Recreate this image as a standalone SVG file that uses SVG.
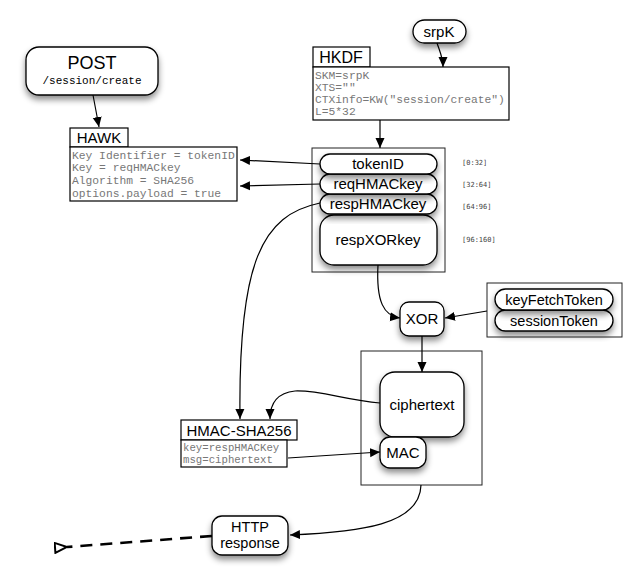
<svg xmlns="http://www.w3.org/2000/svg" width="637" height="586" viewBox="0 0 637 586">
<style>
.bg{fill:#fff}
.node{fill:#fff;stroke:#000;stroke-width:1.3;filter:url(#sh)}
.box{fill:#fff;stroke:#222;stroke-width:1}
.tab{fill:#fff;stroke:#000;stroke-width:1.2}
.lbl{font-family:"Liberation Sans",Arial,sans-serif;fill:#000;text-anchor:middle}
.mono{font-family:"Liberation Mono","Courier New",monospace;fill:#777}
.idx{font-family:"DejaVu Sans Mono","Liberation Mono",monospace;font-size:7px;fill:#444}
.con{fill:none;stroke:#000;stroke-width:1.2}
</style>
<defs>
<filter id="sh" x="-30%" y="-30%" width="160%" height="180%">
<feDropShadow dx="0" dy="4" stdDeviation="3" flood-color="#000" flood-opacity="0.45"/>
</filter>
<marker id="ah" viewBox="0 0 10 10" refX="10" refY="5" markerWidth="10" markerHeight="10" markerUnits="userSpaceOnUse" orient="auto">
<path d="M0,0.5 L10,5 L0,9.5 z" fill="#000"/>
</marker>
<marker id="oh" viewBox="0 0 14 12" refX="1" refY="6" markerWidth="14" markerHeight="12" markerUnits="userSpaceOnUse" orient="auto">
<path d="M13,1 L1,6 L13,11 z" fill="#fff" stroke="#000" stroke-width="2"/>
</marker>
</defs>
<rect class="bg" x="0" y="0" width="637" height="586"/>

<g id="post">
<rect class="node" x="26" y="47" width="132" height="48" rx="13"/>
<text class="lbl" x="92" y="69" font-size="18">POST</text>
<text class="mono" x="92" y="84" font-size="11" text-anchor="middle" style="fill:#000">/session/create</text>
</g>

<g id="hawk">
<rect class="tab" x="70" y="128" width="58" height="19"/>
<text class="lbl" x="99" y="143" font-size="15">HAWK</text>
<rect class="tab" x="70" y="147" width="167" height="54"/>
<text class="mono" x="72" y="159" font-size="11.3">Key Identifier = tokenID</text>
<text class="mono" x="72" y="171" font-size="11.3">Key = reqHMACkey</text>
<text class="mono" x="72" y="184" font-size="11.3">Algorithm = SHA256</text>
<text class="mono" x="72" y="197" font-size="11.3">options.payload = true</text>
</g>

<g id="srpK">
<rect class="node" x="413" y="20" width="53" height="23" rx="11.5"/>
<text class="lbl" x="439" y="37" font-size="15">srpK</text>
</g>

<g id="hkdf">
<rect class="tab" x="313" y="47" width="57" height="20"/>
<text class="lbl" x="341" y="63" font-size="16">HKDF</text>
<rect class="tab" x="313" y="67" width="196" height="53"/>
<text class="mono" x="315" y="79" font-size="11.3">SKM=srpK</text>
<text class="mono" x="315" y="91" font-size="11.3">XTS=""</text>
<text class="mono" x="315" y="103" font-size="11.3">CTXinfo=KW("session/create")</text>
<text class="mono" x="315" y="115" font-size="11.3">L=5*32</text>
</g>

<g id="keys">
<rect class="box" x="312" y="148" width="133" height="124"/>
<rect class="node" x="320" y="215" width="117" height="50" rx="14"/>
<rect class="node" x="320" y="194" width="117" height="20" rx="10"/>
<rect class="node" x="320" y="174" width="117" height="20" rx="10"/>
<rect class="node" x="320" y="154" width="117" height="20" rx="10"/>
<text class="lbl" x="378" y="169" font-size="15">tokenID</text>
<text class="lbl" x="378" y="189" font-size="15">reqHMACkey</text>
<text class="lbl" x="378" y="209" font-size="15">respHMACkey</text>
<text class="lbl" x="378" y="245" font-size="15">respXORkey</text>
<text class="idx" x="462" y="165">[0:32]</text>
<text class="idx" x="462" y="187">[32:64]</text>
<text class="idx" x="462" y="209">[64:96]</text>
<text class="idx" x="462" y="242">[96:160]</text>
</g>

<g id="xor">
<rect class="node" x="400" y="302" width="44" height="34" rx="9"/>
<text class="lbl" x="422" y="324" font-size="15">XOR</text>
</g>

<g id="tokens">
<rect class="box" x="487" y="283" width="135" height="54"/>
<rect class="node" x="495" y="310" width="118" height="21" rx="10.5"/>
<rect class="node" x="495" y="289" width="118" height="21" rx="10.5"/>
<text class="lbl" x="554" y="305" font-size="14.5">keyFetchToken</text>
<text class="lbl" x="554" y="326" font-size="14.5">sessionToken</text>
</g>

<g id="output">
<rect class="box" x="361" y="351" width="121" height="134"/>
<rect class="node" x="380" y="372" width="84" height="65" rx="15"/>
<text class="lbl" x="422" y="410" font-size="15">ciphertext</text>
<rect class="node" x="380" y="437" width="46" height="31" rx="10"/>
<text class="lbl" x="403" y="458" font-size="15">MAC</text>
</g>

<g id="hmac">
<rect class="tab" x="181" y="420" width="116" height="20"/>
<text class="lbl" x="239" y="436" font-size="15">HMAC-SHA256</text>
<rect class="tab" x="181" y="440" width="106" height="27"/>
<text class="mono" x="183" y="451" font-size="10.7">key=respHMACKey</text>
<text class="mono" x="183" y="463" font-size="10.7">msg=ciphertext</text>
</g>

<g id="http">
<rect class="node" x="212" y="516" width="76" height="39" rx="10"/>
<text class="lbl" x="250" y="532" font-size="14.5">HTTP</text>
<text class="lbl" x="250" y="548" font-size="14.5">response</text>
</g>

<g id="connectors">
<path class="con" d="M93,95 L99,127" marker-end="url(#ah)"/>
<path class="con" d="M437,43 C440,52 443,58 443,67" marker-end="url(#ah)"/>
<path class="con" d="M380,120 L380,148" marker-end="url(#ah)"/>
<path class="con" d="M320,164 L240,160" marker-end="url(#ah)"/>
<path class="con" d="M320,184 L240,186" marker-end="url(#ah)"/>
<path class="con" d="M320,203 C262,215 238,262 240,419" marker-end="url(#ah)"/>
<path class="con" d="M378,265 C376,302 384,316 400,318" marker-end="url(#ah)"/>
<path class="con" d="M487,311 L445,318" marker-end="url(#ah)"/>
<path class="con" d="M422,336 L422,372" marker-end="url(#ah)"/>
<path class="con" d="M380,403 C345,400 320,390 295,391 C276,393 270,405 270,419" marker-end="url(#ah)"/>
<path class="con" d="M288,458 L380,452" marker-end="url(#ah)"/>
<path class="con" d="M421,485 C420,525 360,532 290,535" marker-end="url(#ah)"/>
<path d="M212,536 L67,547" fill="none" stroke="#000" stroke-width="2.6" stroke-dasharray="12,8" marker-end="url(#oh)"/>
</g>
</svg>
